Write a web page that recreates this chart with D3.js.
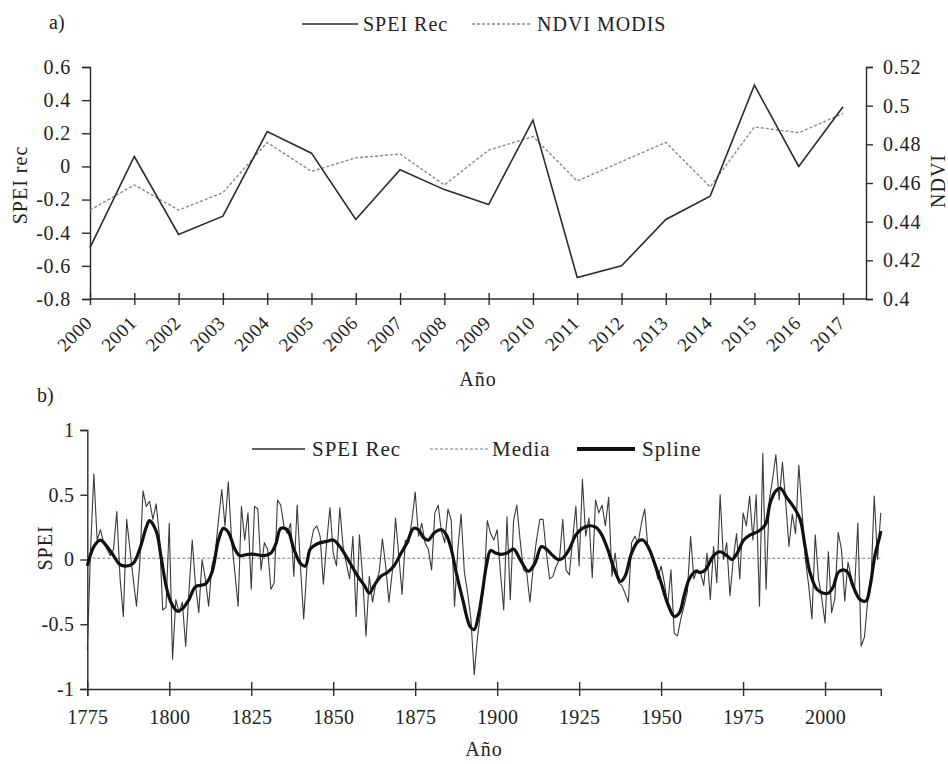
<!DOCTYPE html>
<html>
<head>
<meta charset="utf-8">
<script src="https://cdn.jsdelivr.net/npm/d3@7"></script>
<style>
  body { margin: 0; background: #fff; }
  svg { display: block; }
</style>
</head>
<body>
<svg id="chart" width="948" height="764"></svg>
<script>
// ---- panel a data (2000-2017) ----
const yearsA = ['2000', '2001', '2002', '2003', '2004', '2005', '2006', '2007', '2008',
    '2009', '2010', '2011', '2012', '2013', '2014', '2015', '2016', '2017'];
const speiRecA = [-0.49, 0.06, -0.41, -0.30, 0.21, 0.08, -0.32, -0.02, -0.14,
    -0.23, 0.28, -0.67, -0.60, -0.32, -0.18, 0.49, 0.00, 0.36];
const ndviModis = [0.446, 0.459, 0.446, 0.455, 0.481, 0.466, 0.473, 0.475, 0.459,
    0.477, 0.484, 0.461, 0.471, 0.481, 0.458, 0.489, 0.486, 0.496];
const speiTicksA = [-0.8, -0.6, -0.4, -0.2, 0, 0.2, 0.4, 0.6];
const ndviTicks = [0.4, 0.42, 0.44, 0.46, 0.48, 0.5, 0.52];

// ---- panel b data (1775-2017, one value per year) ----
const firstYear = 1775;
const speiRec = [
    -0.70, 0.08, 0.66, 0.15, 0.23,                                      // 1775
    0.13, 0.08, 0.03, 0.08, 0.37, -0.15, -0.44, 0.31, 0.08, -0.15,      // 1780
    -0.36, -0.03, 0.53, 0.41, 0.45, 0.31, 0.43, 0.18, -0.39, -0.37,     // 1790
    0.28, -0.77, -0.31, -0.41, -0.33, -0.67, -0.25, 0.15, -0.20, -0.41, // 1800
    0.00, -0.15, -0.36, -0.05, 0.05, 0.30, 0.54, 0.26, 0.60, 0.15,      // 1810
    -0.10, -0.36, 0.41, 0.15, 0.36, -0.23, 0.41, 0.39, -0.08, 0.13,     // 1820
    0.08, -0.23, -0.18, 0.46, 0.42, 0.25, 0.20, 0.28, -0.13, 0.42,      // 1830
    -0.05, -0.46, -0.05, 0.10, 0.23, 0.26, 0.18, -0.19, 0.13, 0.40,     // 1840
    0.05, -0.05, 0.40, 0.10, -0.03, -0.15, 0.18, -0.44, 0.19, -0.15,    // 1850
    -0.59, -0.13, -0.33, -0.18, -0.10, 0.16, -0.05, -0.33, -0.10, 0.32, // 1860
    0.03, -0.27, 0.15, 0.13, 0.30, 0.52, 0.18, 0.28, 0.13, 0.08,        // 1870
    -0.08, 0.36, 0.42, 0.22, 0.13, 0.39, 0.30, -0.36, 0.08, 0.35,       // 1880
    -0.10, -0.26, -0.46, -0.89, -0.60, -0.40, -0.20, 0.30, 0.20, 0.15,  // 1890
    0.23, -0.10, -0.39, 0.33, -0.31, 0.30, 0.42, 0.15, -0.08, -0.10,    // 1900
    -0.33, -0.05, 0.15, 0.31, 0.31, 0.05, -0.15, -0.13, -0.05, 0.00,    // 1910
    0.31, -0.08, -0.12, 0.15, 0.41, -0.05, 0.62, 0.18, 0.32, -0.14,     // 1920
    0.46, 0.36, 0.42, 0.26, 0.48, -0.13, 0.05, -0.18, -0.20, -0.26,     // 1930
    -0.33, 0.13, 0.18, 0.13, 0.28, 0.39, 0.08, 0.05, -0.03, -0.15,      // 1940
    -0.05, -0.18, -0.36, -0.08, -0.57, -0.59, -0.46, -0.36, -0.25, 0.18, // 1950
    -0.15, -0.08, -0.10, -0.20, 0.05, -0.31, 0.10, -0.18, 0.50, 0.00,   // 1960
    0.13, -0.28, 0.00, 0.20, -0.15, 0.36, 0.26, 0.49, 0.15, 0.50,       // 1970
    -0.36, 0.82, -0.23, 0.46, 0.62, 0.81, 0.46, 0.75, 0.44, 0.10,       // 1980
    0.35, 0.20, 0.73, 0.36, 0.00, -0.20, -0.46, 0.19, -0.15, -0.30,     // 1990
    -0.49, 0.06, -0.41, -0.30, 0.21, 0.08, -0.32, -0.02, -0.14, -0.23,  // 2000
    0.28, -0.67, -0.60, -0.32, -0.18, 0.49, 0.00, 0.36                  // 2010
];
const mediaValue = 0.01;
const splineYears = [1775, 1777, 1779, 1781, 1783, 1785, 1787, 1789, 1791, 1793, 1794, 1796,
    1797.5, 1799, 1800.5, 1802.5, 1804, 1806, 1808, 1811, 1813, 1815, 1816.5, 1818, 1820,
    1821.5, 1824, 1826, 1829, 1831, 1832.5, 1834, 1836, 1838, 1840, 1841.5, 1843, 1845, 1848,
    1850, 1852, 1854.5, 1857.5, 1859.5, 1861, 1862.5, 1864.5, 1866.5, 1868.5, 1870.5, 1872.5,
    1874.5, 1876, 1877.5, 1879, 1881, 1883, 1884.5, 1886, 1887.5, 1889.5, 1891.8, 1893, 1894.3,
    1895.5, 1896.7, 1898, 1899.5, 1901, 1903, 1905, 1907, 1909.5, 1911.5, 1913.5, 1915, 1917,
    1918.5, 1920, 1922, 1924, 1926, 1928, 1930, 1931.7, 1933.7, 1935.8, 1937.6, 1939, 1941,
    1943, 1944.4, 1946, 1948, 1950, 1952, 1954, 1955.6, 1957, 1958.6, 1960.5, 1962, 1963.5,
    1966, 1968, 1970, 1971.6, 1973.2, 1975.2, 1977.2, 1979.8, 1981.8, 1983.3, 1985, 1986.4,
    1988.3, 1990.3, 1992.4, 1993.9, 1995.4, 1997.5, 1999.5, 2001, 2002.5, 2004, 2005.6, 2007,
    2008.6, 2010.7, 2012.5, 2013.7, 2015.2, 2016.7, 2017];
const splineValues = [-0.05, 0.10, 0.15, 0.10, 0.03, -0.04, -0.05, -0.03, 0.08, 0.25, 0.30, 0.22,
    0.02, -0.20, -0.33, -0.40, -0.38, -0.31, -0.21, -0.19, -0.10, 0.15, 0.24, 0.21, 0.08,
    0.03, 0.04, 0.04, 0.03, 0.05, 0.12, 0.24, 0.23, 0.08, -0.03, -0.05, 0.08, 0.12, 0.14,
    0.15, 0.10, 0.00, -0.13, -0.20, -0.26, -0.20, -0.13, -0.10, -0.05, 0.04, 0.13,
    0.24, 0.23, 0.17, 0.15, 0.21, 0.23, 0.19, 0.08, -0.10, -0.31, -0.52, -0.54, -0.43,
    -0.25, -0.05, 0.07, 0.05, 0.04, 0.05, 0.08, 0.00, -0.09, -0.03, 0.10, 0.08, 0.03,
    0.00, 0.01, 0.08, 0.19, 0.24, 0.26, 0.25, 0.20, 0.08, -0.08, -0.17, -0.13, 0.05,
    0.14, 0.15, 0.10, -0.03, -0.18, -0.34, -0.44, -0.41, -0.28, -0.15, -0.09, -0.10, -0.08,
    0.03, 0.06, 0.03, 0.00, 0.05, 0.15, 0.19, 0.22, 0.27, 0.44, 0.53, 0.55,
    0.48, 0.41, 0.31, 0.10, -0.10, -0.23, -0.26, -0.26, -0.21, -0.10, -0.08, -0.10,
    -0.21, -0.31, -0.32, -0.21, 0.03, 0.18, 0.22];
const yearTicksB = [1775, 1800, 1825, 1850, 1875, 1900, 1925, 1950, 1975, 2000];
const speiTicksB = [-1, -0.5, 0, 0.5, 1];

const fontFamily = "'Liberation Serif', 'Times New Roman', serif";
const ink = '#2b2b2b';

const svg = d3.select('#chart');

function styleAxis(g, size, spacing) {
    g.select('.domain').attr('stroke', ink).attr('stroke-width', 1.4);
    g.selectAll('.tick line').attr('stroke', ink).attr('stroke-width', 1.4);
    g.selectAll('.tick text')
        .attr('fill', '#222')
        .style('font-family', fontFamily)
        .style('font-size', size + 'px')
        .style('letter-spacing', spacing + 'px');
}

function addText(x, y, str, opts) {
    opts = opts || {};
    return svg.append('text')
        .attr('x', x).attr('y', y)
        .attr('text-anchor', opts.anchor || 'start')
        .attr('transform', opts.rotate ? `rotate(${opts.rotate},${x},${y})` : null)
        .attr('fill', '#222')
        .style('font-family', fontFamily)
        .style('font-size', (opts.size || 20) + 'px')
        .style('letter-spacing', (opts.spacing === undefined ? 1 : opts.spacing) + 'px')
        .text(str);
}

function drawPanelA() {
    const x = d3.scalePoint().domain(yearsA).range([90, 843]);
    const yLeft = d3.scaleLinear().domain([-0.8, 0.6]).range([299, 67]);
    const yRight = d3.scaleLinear().domain([0.4, 0.52]).range([299, 67]);

    // x axis (line runs on to the secondary axis)
    const gx = svg.append('g').attr('transform', 'translate(0,299)')
        .call(d3.axisBottom(x).tickSizeOuter(0).tickSize(6).tickPadding(0));
    gx.select('.domain').remove();
    gx.append('line').attr('x1', 90).attr('x2', 866).attr('y1', 0).attr('y2', 0);
    gx.selectAll('line').attr('stroke', ink).attr('stroke-width', 1.4);
    gx.selectAll('.tick line').attr('y1', -6).attr('y2', 6);
    gx.selectAll('.tick text')
        .attr('fill', '#222')
        .attr('text-anchor', 'end')
        .attr('dy', null)
        .attr('y', 0)
        .attr('transform', 'translate(3,25) rotate(-45)')
        .style('font-family', fontFamily)
        .style('font-size', '19px')
        .style('letter-spacing', '0.6px');

    const gl = svg.append('g').attr('transform', 'translate(90,0)')
        .call(d3.axisLeft(yLeft).tickValues(speiTicksA).tickSizeOuter(0).tickSize(8).tickPadding(11)
            .tickFormat(d => String(+d.toFixed(1))));
    styleAxis(gl, 20, 0.8);

    const gr = svg.append('g').attr('transform', 'translate(866,0)')
        .call(d3.axisRight(yRight).tickValues(ndviTicks).tickSizeOuter(0).tickSize(7).tickPadding(10)
            .tickFormat(d => String(+d.toFixed(2))));
    styleAxis(gr, 20, 0.8);

    svg.append('path')
        .datum(ndviModis)
        .attr('fill', 'none')
        .attr('stroke', '#8a8a8a')
        .attr('stroke-width', 1.4)
        .attr('stroke-dasharray', '3,2')
        .attr('d', d3.line().x((d, i) => x(yearsA[i])).y(d => yRight(d)));

    svg.append('path')
        .datum(speiRecA)
        .attr('fill', 'none')
        .attr('stroke', ink)
        .attr('stroke-width', 1.6)
        .attr('d', d3.line().x((d, i) => x(yearsA[i])).y(d => yLeft(d)));

    // legend
    svg.append('line').attr('x1', 302).attr('x2', 358).attr('y1', 24).attr('y2', 24)
        .attr('stroke', ink).attr('stroke-width', 1.6);
    addText(363, 31, 'SPEI Rec');
    svg.append('line').attr('x1', 472).attr('x2', 531).attr('y1', 24).attr('y2', 24)
        .attr('stroke', '#8a8a8a').attr('stroke-width', 1.4).attr('stroke-dasharray', '3,2');
    addText(537, 31, 'NDVI MODIS');

    addText(49, 29, 'a)', { spacing: 0 });
    addText(27, 185, 'SPEI rec', { anchor: 'middle', rotate: -90 });
    addText(945, 181, 'NDVI', { anchor: 'middle', rotate: -90 });
    addText(478, 386, 'Año', { anchor: 'middle' });
}

function drawPanelB() {
    const x = d3.scaleLinear().domain([1775, 2017]).range([87.3, 880.8]);
    const y = d3.scaleLinear().domain([-1, 1]).range([689, 430]);

    const gx = svg.append('g').attr('transform', 'translate(0,689)')
        .call(d3.axisBottom(x).tickValues(yearTicksB).tickFormat(d3.format('d'))
            .tickSizeOuter(0).tickSize(7).tickPadding(14));
    styleAxis(gx, 20, 0.3);
    gx.selectAll('.tick line').attr('y1', -7).attr('y2', 7);

    const gy = svg.append('g').attr('transform', 'translate(87.3,0)')
        .call(d3.axisLeft(y).tickValues(speiTicksB).tickSizeOuter(0).tickSize(7).tickPadding(6)
            .tickFormat(d => String(d)));
    styleAxis(gy, 20, 0.3);

    // media (dashed) line
    svg.append('line')
        .attr('x1', x(1775)).attr('x2', x(2017))
        .attr('y1', y(mediaValue)).attr('y2', y(mediaValue))
        .attr('stroke', '#7a7a7a').attr('stroke-width', 1.1).attr('stroke-dasharray', '3,2');

    svg.append('path')
        .datum(speiRec)
        .attr('fill', 'none')
        .attr('stroke', '#3a3a3a')
        .attr('stroke-width', 1.1)
        .attr('stroke-linejoin', 'round')
        .attr('d', d3.line().x((d, i) => x(firstYear + i)).y(d => y(d)));

    svg.append('path')
        .datum(splineValues)
        .attr('fill', 'none')
        .attr('stroke', '#111')
        .attr('stroke-width', 3.2)
        .attr('stroke-linejoin', 'round')
        .attr('d', d3.line().curve(d3.curveCatmullRom.alpha(0.5))
            .x((d, i) => x(splineYears[i])).y(d => y(d)));

    // legend
    svg.append('line').attr('x1', 252).attr('x2', 305).attr('y1', 449).attr('y2', 449)
        .attr('stroke', ink).attr('stroke-width', 1.3);
    addText(312, 456, 'SPEI Rec', { size: 21 });
    svg.append('line').attr('x1', 430).attr('x2', 488).attr('y1', 449).attr('y2', 449)
        .attr('stroke', '#7a7a7a').attr('stroke-width', 1.1).attr('stroke-dasharray', '3,2');
    addText(492, 456, 'Media', { size: 21 });
    svg.append('line').attr('x1', 577).attr('x2', 635).attr('y1', 449).attr('y2', 449)
        .attr('stroke', '#111').attr('stroke-width', 4);
    addText(642, 456, 'Spline', { size: 21 });

    addText(37, 402, 'b)', { spacing: 0 });
    addText(52, 548, 'SPEI', { anchor: 'middle', rotate: -90 });
    addText(484, 756, 'Año', { anchor: 'middle' });
}

drawPanelA();
drawPanelB();
</script>
</body>
</html>
